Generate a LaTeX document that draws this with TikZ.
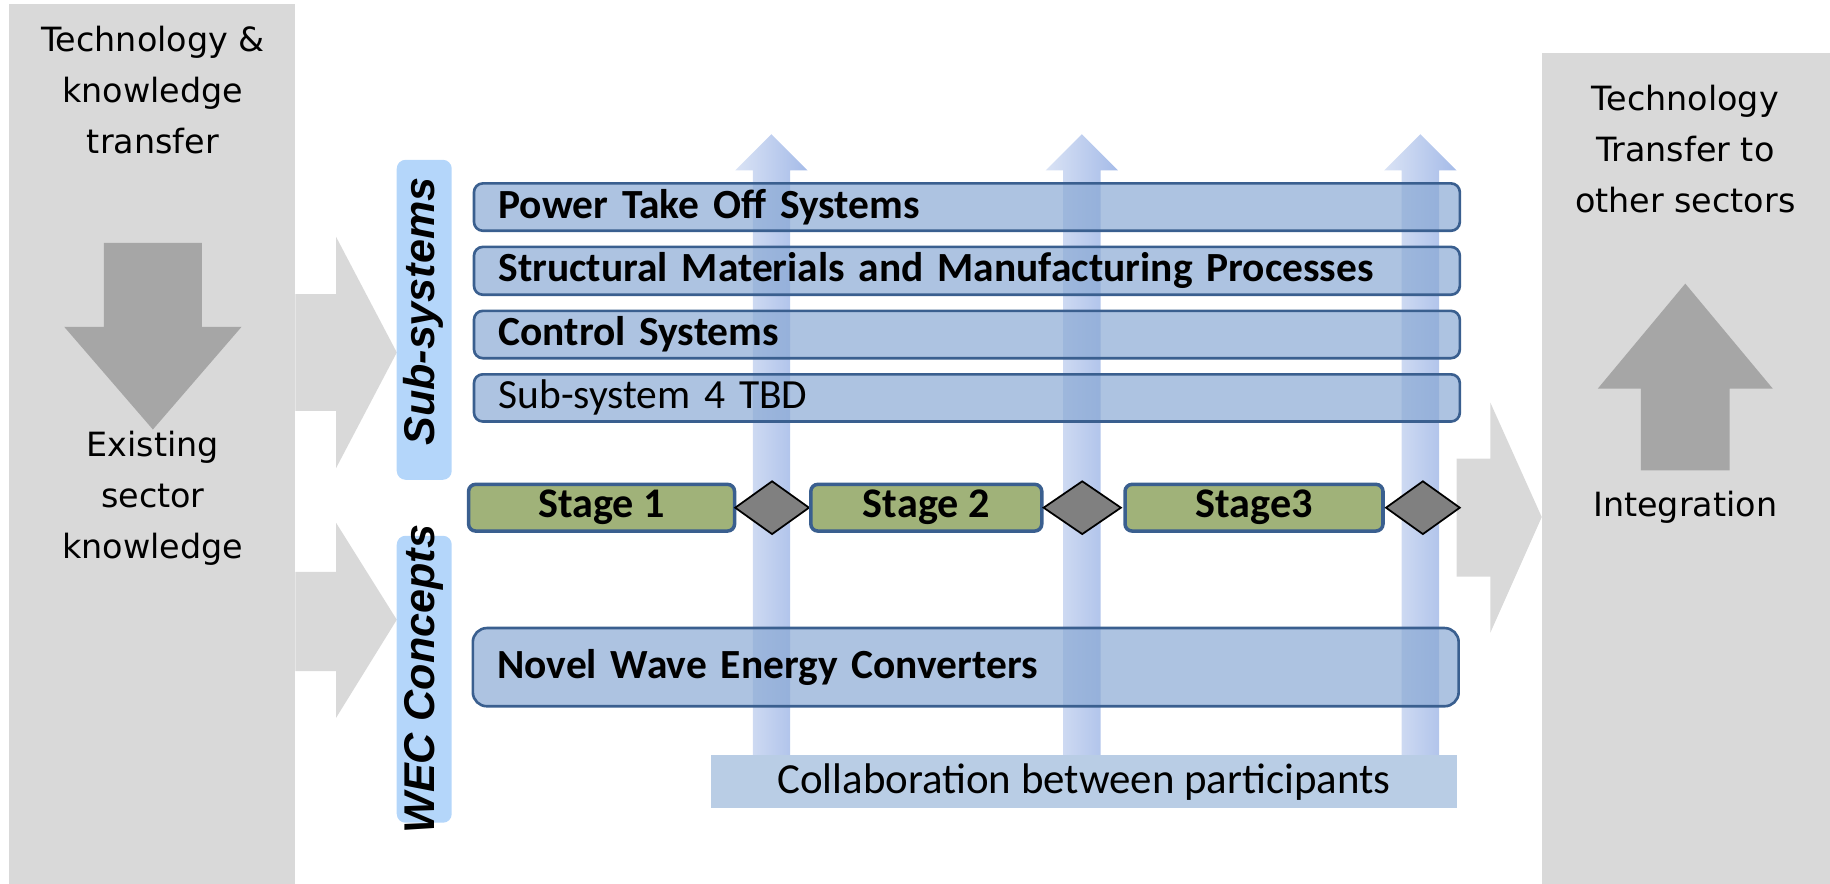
\documentclass[tikz,border=0pt]{standalone}
\usepackage{fontspec}
\setmainfont{DejaVu Sans}
\newfontfamily\calibfont{Carlito}
\newfontfamily\arialfont{Liberation Sans}
\usepackage{tikz}
\usetikzlibrary{shapes.geometric, positioning}

\definecolor{panelgrey}{RGB}{217,217,217}
\definecolor{arrowgrey}{RGB}{166,166,166}
\definecolor{barfill}{RGB}{138,169,212}
\definecolor{barline}{RGB}{58,95,143}
\definecolor{stagefill}{RGB}{160,178,121}
\definecolor{gatefill}{RGB}{128,128,128}
\definecolor{tagfill}{RGB}{180,214,250}
\definecolor{collabfill}{RGB}{185,205,229}
\definecolor{riseleft}{RGB}{218,227,245}
\definecolor{riseright}{RGB}{165,187,232}

\begin{document}
\begin{tikzpicture}[x=0.023342cm, y=-0.023342cm]
\tikzstyle{paneltext} = [align=center, font=\fontsize{19}{29}\selectfont]
\tikzstyle{bar} = [rectangle, rounded corners=5pt, draw=barline, line width=1.5pt, fill=barfill, fill opacity=0.7, text opacity=1, minimum height=0.934cm, text width=18.74cm, inner xsep=0.49cm, align=left, font=\calibfont\bfseries\fontsize{23.6}{27}\selectfont]
\tikzstyle{stagebox} = [rectangle, rounded corners=4pt, draw=barline, line width=2pt, fill=stagefill, minimum height=0.934cm, inner sep=0pt, font=\calibfont\bfseries\fontsize{24}{28}\selectfont]
\tikzstyle{gate} = [diamond, draw=black, line width=1pt, fill=gatefill, minimum width=1.49cm, minimum height=1.07cm, inner sep=0pt]
\tikzstyle{tagbox} = [rectangle, rounded corners=5pt, fill=tagfill, minimum width=1.10cm]
\tikzstyle{tagtext} = [rotate=90, font=\arialfont\bfseries\itshape\fontsize{24.5}{28}\selectfont]

\useasboundingbox (0,0) rectangle (1568,757);

% side panels
\fill[panelgrey] (8,3) rectangle (253,757);
\fill[panelgrey] (1321,45) rectangle (1568,757);

% big grey arrows
\fill[panelgrey] (253,252) -- (288,252) -- (288,203) -- (340,302) -- (288,401) -- (288,352) -- (253,352) -- cycle;
\fill[panelgrey] (253,490) -- (288,490) -- (288,448) -- (340,531) -- (288,615) -- (288,575) -- (253,575) -- cycle;
\fill[panelgrey] (1248,393) -- (1277,393) -- (1277,345) -- (1321,443) -- (1277,542) -- (1277,494) -- (1248,494) -- cycle;
\fill[arrowgrey] (89,208) -- (173,208) -- (173,280) -- (207,280) -- (131,368) -- (55,280) -- (89,280) -- cycle;
\fill[arrowgrey] (1406,403) -- (1406,333) -- (1369,333) -- (1444,243) -- (1519,333) -- (1482,333) -- (1482,403) -- cycle;

% collaboration arrows
\foreach \cx in {661, 927, 1217} {
  \shade[left color=riseleft, right color=riseright] (\cx-16,650) -- (\cx-16,146) -- (\cx-31,146) -- (\cx,115) -- (\cx+31,146) -- (\cx+16,146) -- (\cx+16,650) -- cycle;
}

% sub-system bars
\node (pto) [bar, anchor=north west] at (405,156) {Power Take Off Systems};
\node (smm) [bar, below=0.27cm of pto] {Structural Materials and Manufacturing Processes};
\node (ctrl) [bar, below=0.27cm of smm] {Control Systems};
\node (ss4) [bar, below=0.27cm of ctrl, font=\calibfont\fontsize{23.6}{27}\selectfont] {Sub-system 4 TBD};
\node (nwec) [bar, rounded corners=8pt, minimum height=1.564cm, anchor=north west] at (404,537) {Novel Wave Energy Converters};

% stages and gates
\node (st1) [stagebox, minimum width=5.32cm, anchor=west] at (400,435) {Stage 1};
\node (g1) [gate, right=-0.047cm of st1] {};
\node (st2) [stagebox, minimum width=4.62cm, right=-0.023cm of g1] {Stage 2};
\node (g2) [gate, minimum width=1.56cm, right=-0.023cm of st2] {};
\node (st3) [stagebox, minimum width=5.16cm, right=0.023cm of g2] {Stage3};
\node (g3) [gate, right=0pt of st3] {};

\node (collab) [rectangle, fill=collabfill, minimum width=14.92cm, minimum height=1.05cm, font=\calibfont\fontsize{24.4}{28}\selectfont, anchor=north west] at (609,647) {Collaboration between participants};

% side tags
\node (subbox) [tagbox, minimum height=6.40cm] at (363.5,274) {};
\node (wecbox) [tagbox, minimum height=5.74cm] at (363.5,582) {};
\node (subtxt) [tagtext] at (363,267) {Sub-systems};
\node (wectxt) [tagtext] at (363,582) {WEC Concepts};

% panel texts
\node (techin) [paneltext] at (131,77) {Technology \&\\knowledge\\transfer};
\node (exist) [paneltext] at (131,427) {Existing\\sector\\knowledge};
\node (techout) [paneltext] at (1444,128) {Technology\\Transfer to\\other sectors};
\node (integ) [paneltext] at (1444,435) {Integration};
\end{tikzpicture}
\end{document}
